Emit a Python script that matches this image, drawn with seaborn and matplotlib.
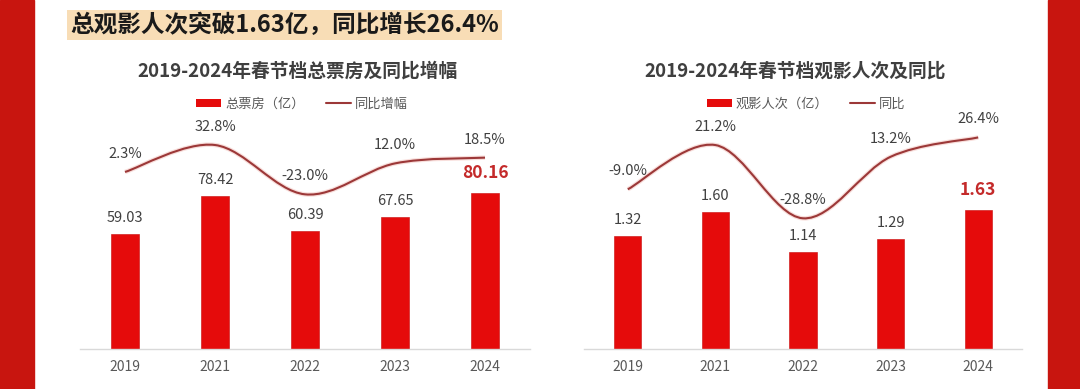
import numpy as np
import seaborn as sns
import matplotlib.pyplot as plt
from matplotlib.patches import Rectangle, Patch, PathPatch
from matplotlib.lines import Line2D
from matplotlib.path import Path

# ---------------------------------------------------------
# data
# ---------------------------------------------------------
years = ["2019", "2021", "2022", "2023", "2024"]
box_office = [59.03, 78.42, 60.39, 67.65, 80.16]        # 总票房（亿）
box_growth = [2.3, 32.8, -23.0, 12.0, 18.5]              # 同比增幅 %
admissions = [1.32, 1.60, 1.14, 1.29, 1.63]              # 观影人次（亿）
adm_growth = [-9.0, 21.2, -28.8, 13.2, 26.4]             # 同比 %

headline = "总观影人次突破1.63亿，同比增长26.4%"
title_left = "2019-2024年春节档总票房及同比增幅"
title_right = "2019-2024年春节档观影人次及同比"
legend_left = ["总票房（亿）", "同比增幅"]
legend_right = ["观影人次（亿）", "同比"]

BAR = "#E50B0B"
LINE = "#9C3838"
TXT = "#404040"
TICK = "#595959"
HI = "#C42A2A"

sns.set_style("white")
plt.rcParams["font.family"] = ["Noto Sans CJK SC", "DejaVu Sans"]

W, H = 1080, 389
fig = plt.figure(figsize=(W / 100, H / 100), dpi=100)
fig.patch.set_facecolor("white")

# red frame on both sides
fig.patches.append(Rectangle((0, 0), 34 / W, 1, transform=fig.transFigure,
                             color="#C8150F", zorder=0))
fig.patches.append(Rectangle((1048 / W, 0), 32 / W, 1, transform=fig.transFigure,
                             color="#C8150F", zorder=0))

fig.text(70 / W, 1 - 25 / H, headline, ha="left", va="center", fontsize=17,
         fontweight="bold", color="#1a1a1a",
         bbox=dict(facecolor="#F8DDB6", edgecolor="none", boxstyle="square,pad=0.14"))


def smooth_path(xs, ys):
    # bezier segments (catmull-rom style) through the data points
    pts = np.column_stack([xs, ys]).astype(float)
    n = len(pts)
    verts = [pts[0]]
    codes = [Path.MOVETO]
    for i in range(n - 1):
        p0 = pts[max(i - 1, 0)]
        p1 = pts[i]
        p2 = pts[i + 1]
        p3 = pts[min(i + 2, n - 1)]
        c1 = p1 + (p2 - p0) / 6
        c2 = p2 - (p3 - p1) / 6
        verts += [c1, c2, p2]
        codes += [Path.CURVE4] * 3
    return Path(verts, codes)


def draw_panel(rect, bars, growth, bar_top, line_lim, fmt, title, title_x, labels, leg_x):
    ax = fig.add_axes(rect)
    sns.barplot(x=years, y=bars, ax=ax, color=BAR, saturation=1, width=0.31,
                edgecolor="#C80A0A", linewidth=0.4)
    ax.set_ylim(0, bar_top)
    ax.set_xlim(-0.5, len(years) - 0.5)
    ax.set_yticks([])
    ax.set_xlabel("")
    ax.set_ylabel("")
    for s in ["top", "right", "left"]:
        ax.spines[s].set_visible(False)
    ax.spines["bottom"].set_color("#D9D9D9")
    ax.spines["bottom"].set_linewidth(1.0)
    ax.tick_params(axis="x", length=0, pad=8, labelsize=10, labelcolor=TICK)

    for i, v in enumerate(bars):
        last = i == len(bars) - 1
        ax.annotate(fmt.format(v), (i, v), xytext=(0, 14 if last else 11.5),
                    textcoords="offset points", ha="center", va="center",
                    fontsize=12.5 if last else 10.5,
                    fontweight="bold" if last else "normal",
                    color=HI if last else TXT)

    ax2 = ax.twinx()
    ax2.set_ylim(*line_lim)
    ax2.set_yticks([])
    for s in ax2.spines.values():
        s.set_visible(False)
    xs = np.arange(len(growth))
    ax2.add_patch(PathPatch(smooth_path(xs, growth), facecolor="none",
                            edgecolor="#F4C9C4", linewidth=3.2, alpha=0.6))
    ax2.add_patch(PathPatch(smooth_path(xs, growth), facecolor="none",
                            edgecolor=LINE, linewidth=1.5))
    for i, v in enumerate(growth):
        ax2.annotate(f"{v:.1f}%", (i, v), xytext=(0, 13), textcoords="offset points",
                     ha="center", va="center", fontsize=10.5, color=TXT)

    fig.text(title_x / W, 1 - 71 / H, title, ha="center", va="center",
             fontsize=13.5, fontweight="bold", color="#3f3f3f")

    handles = [Patch(facecolor=BAR, edgecolor="none"),
               Line2D([], [], color=LINE, linewidth=1.5)]
    fig.legend(handles, labels, loc="center", bbox_to_anchor=(leg_x / W, 1 - 104 / H),
               ncol=2, frameon=False, fontsize=9.5, labelcolor=TICK,
               handlelength=1.9, handleheight=0.5, handletextpad=0.3,
               columnspacing=1.6)
    return ax


draw_panel([80 / W, 40 / H, 450 / W, 229 / H], box_office, box_growth,
           117.4, (-198.0, 61.1), "{:.2f}", title_left, 298, legend_left, 302)
draw_panel([584 / W, 40 / H, 438 / W, 229 / H], admissions, adm_growth,
           2.678, (-118.0, 38.3), "{:.2f}", title_right, 795, legend_right, 806)

fig.savefig("out.png", dpi=100)
